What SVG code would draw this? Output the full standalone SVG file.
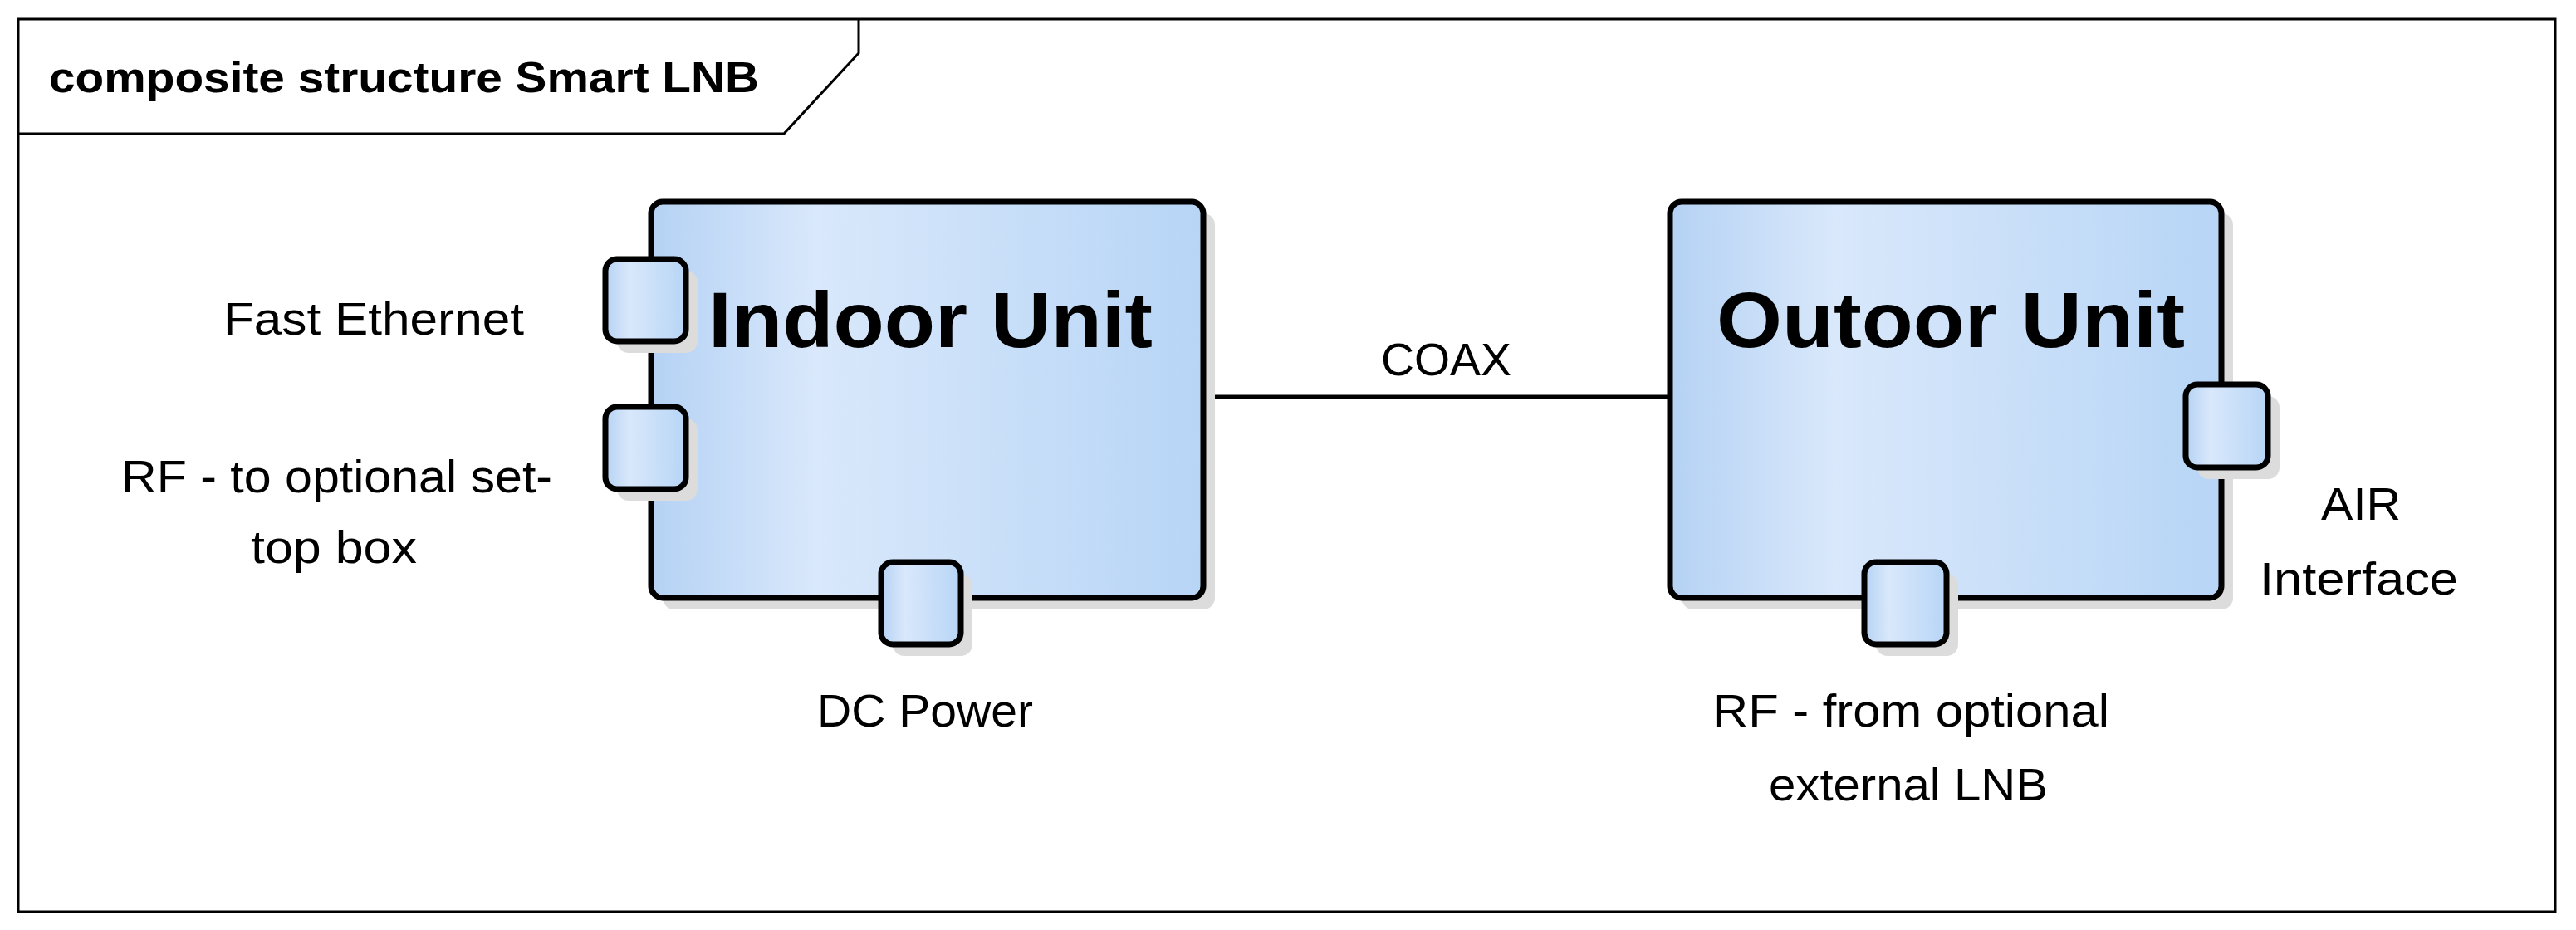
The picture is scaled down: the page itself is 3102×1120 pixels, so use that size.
<svg xmlns="http://www.w3.org/2000/svg" width="3102" height="1120" viewBox="0 0 3102 1120">
<style>
.t{font-family:"Liberation Sans",Arial,sans-serif;fill:#000}
.lbl{font-size:56px}
.big{font-size:94px;font-weight:bold}
.body{stroke:#000;stroke-width:7;fill:url(#g)}
.shadow{fill:#dcdcdc}
</style>
<defs>
<linearGradient id="g" x1="0" y1="0" x2="1" y2="0">
<stop offset="0" stop-color="#b5d2f4"/>
<stop offset="0.3" stop-color="#d9e8fb"/>
<stop offset="1" stop-color="#b7d5f6"/>
</linearGradient>
</defs>
<rect x="0" y="0" width="3102" height="1120" fill="#fff"/>
<g id="frame">
<rect x="22" y="23" width="3055" height="1075" fill="none" stroke="#000" stroke-width="3"/>
<path d="M22 161 H944 L1034 64 V23" fill="none" stroke="#000" stroke-width="3"/>
<text class="t" x="59" y="111" font-size="52" font-weight="bold" textLength="855" lengthAdjust="spacingAndGlyphs">composite structure Smart LNB</text>
</g>
<g id="connectors">
<line x1="1449" y1="478" x2="2011" y2="478" stroke="#000" stroke-width="5"/>
<text class="t lbl" x="1663" y="452" textLength="157" lengthAdjust="spacingAndGlyphs">COAX</text>
</g>
<g id="indoor">
<rect class="shadow" x="798" y="257" width="665" height="477" rx="14"/>
<rect class="body" x="784" y="243" width="665" height="477" rx="14"/>
<text class="t big" x="853" y="418" textLength="535" lengthAdjust="spacingAndGlyphs">Indoor Unit</text>
</g>
<g id="port-eth">
<rect class="shadow" x="743" y="326" width="97" height="99" rx="14"/>
<rect class="body" x="729" y="312" width="97" height="99" rx="14" stroke-width="6"/>
<text class="t lbl" x="269" y="403" textLength="362" lengthAdjust="spacingAndGlyphs">Fast Ethernet</text>
</g>
<g id="port-rf-out">
<rect class="shadow" x="743" y="504" width="97" height="99" rx="14"/>
<rect class="body" x="729" y="490" width="97" height="99" rx="14" stroke-width="6"/>
<text class="t lbl" x="146" y="593" textLength="519" lengthAdjust="spacingAndGlyphs">RF - to optional set-</text>
<text class="t lbl" x="302" y="678" textLength="200" lengthAdjust="spacingAndGlyphs">top box</text>
</g>
<g id="port-dc">
<rect class="shadow" x="1075" y="691" width="96" height="99" rx="14"/>
<rect class="body" x="1061" y="677" width="96" height="99" rx="14" stroke-width="6"/>
<text class="t lbl" x="984" y="875" textLength="260" lengthAdjust="spacingAndGlyphs">DC Power</text>
</g>
<g id="outdoor">
<rect class="shadow" x="2025" y="257" width="664" height="477" rx="14"/>
<rect class="body" x="2011" y="243" width="664" height="477" rx="14"/>
<text class="t big" x="2067" y="418" textLength="564" lengthAdjust="spacingAndGlyphs">Outoor Unit</text>
</g>
<g id="port-air">
<rect class="shadow" x="2646" y="477" width="99" height="100" rx="14"/>
<rect class="body" x="2632" y="463" width="99" height="100" rx="14" stroke-width="6"/>
<text class="t lbl" x="2795" y="626" textLength="96" lengthAdjust="spacingAndGlyphs">AIR</text>
<text class="t lbl" x="2721" y="716" textLength="239" lengthAdjust="spacingAndGlyphs">Interface</text>
</g>
<g id="port-rf-in">
<rect class="shadow" x="2259" y="691" width="99" height="99" rx="14"/>
<rect class="body" x="2245" y="677" width="99" height="99" rx="14" stroke-width="6"/>
<text class="t lbl" x="2062" y="875" textLength="478" lengthAdjust="spacingAndGlyphs">RF - from optional</text>
<text class="t lbl" x="2130" y="964" textLength="336" lengthAdjust="spacingAndGlyphs">external LNB</text>
</g>
</svg>
